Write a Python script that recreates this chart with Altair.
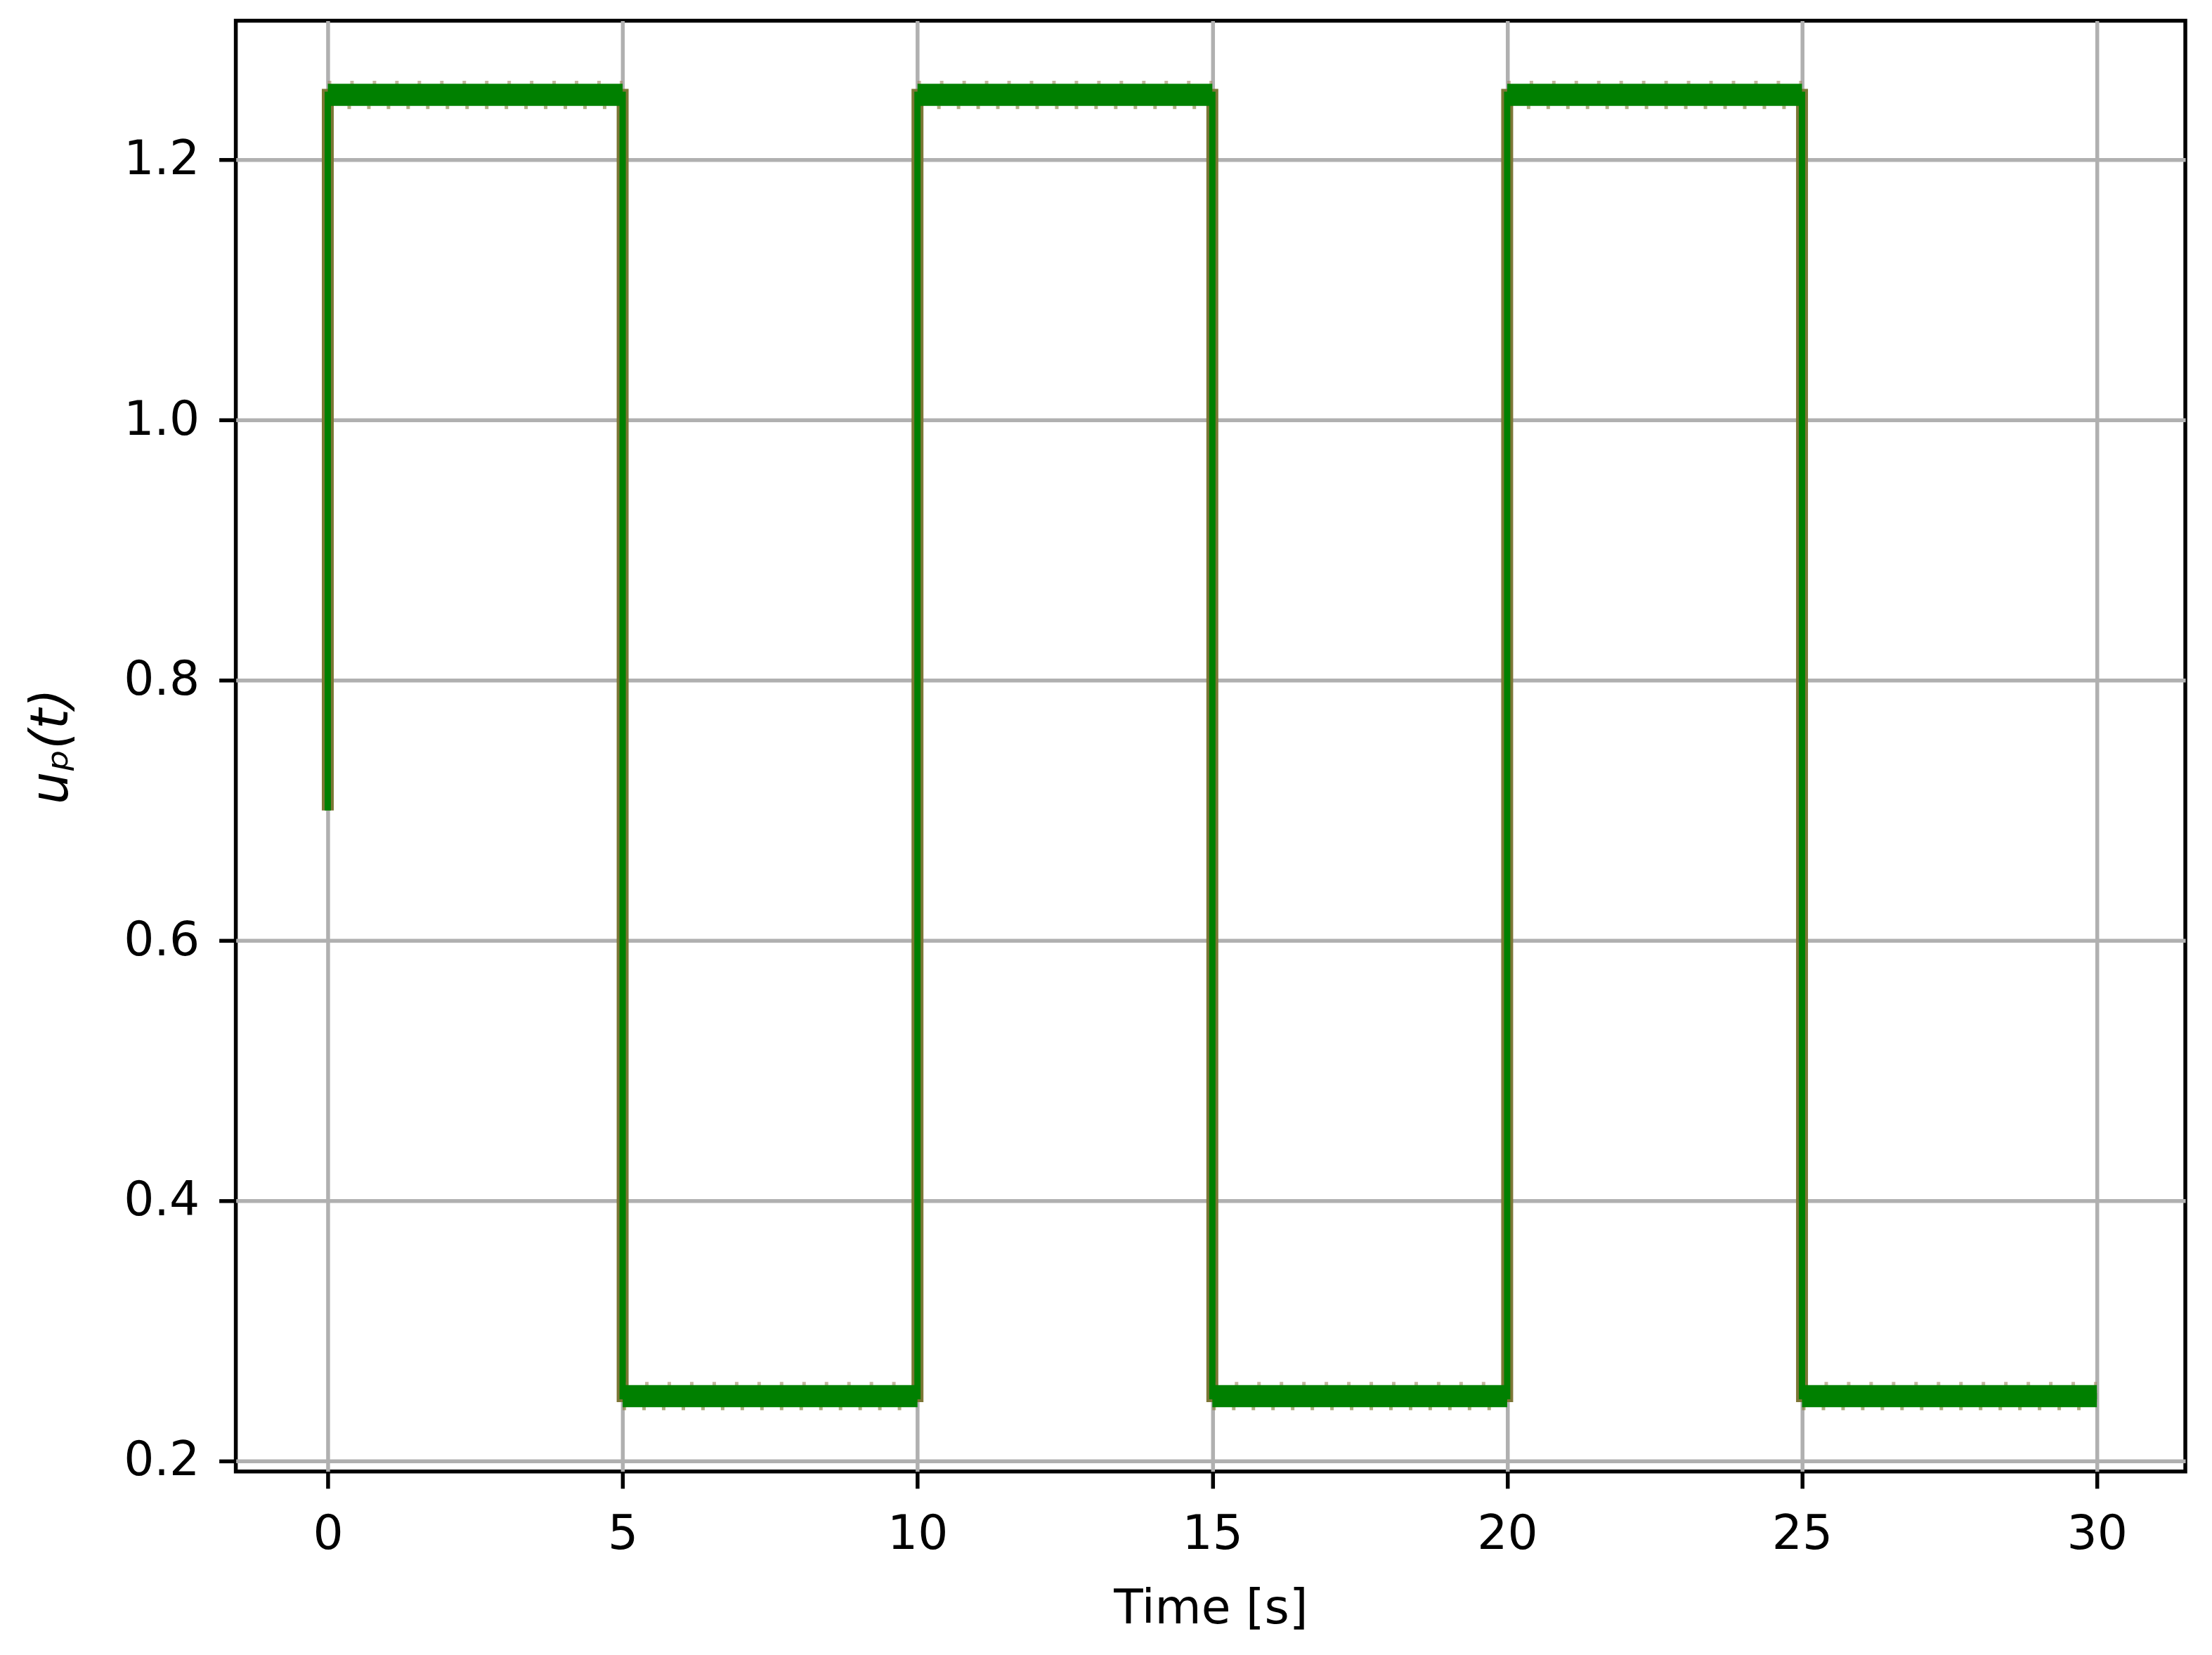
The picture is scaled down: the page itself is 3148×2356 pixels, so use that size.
import pandas as pd
import altair as alt

# square-wave input u_p(t): step corners
t_steps = [0.0, 0.0, 5.0, 5.0, 10.0, 10.0, 15.0, 15.0, 20.0, 20.0, 25.0, 25.0, 30.0]
u_steps = [0.70, 1.25, 1.25, 0.25, 0.25, 1.25, 1.25, 0.25, 0.25, 1.25, 1.25, 0.25, 0.25]

# noise envelope of each plateau (dense core and sparse outliers)
plateau_start = [0.0, 5.0, 10.0, 15.0, 20.0, 25.0]
plateau_end = [5.0, 10.0, 15.0, 20.0, 25.0, 30.0]
plateau_lo = [1.2415, 0.2415, 1.2415, 0.2415, 1.2415, 0.2415]
plateau_hi = [1.2585, 0.2585, 1.2585, 0.2585, 1.2585, 0.2585]
outlier_lo = [1.2405, 0.2405, 1.2405, 0.2405, 1.2405, 0.2405]
outlier_hi = [1.2595, 0.2595, 1.2595, 0.2595, 1.2595, 0.2595]

x_ticks = [0, 5, 10, 15, 20, 25, 30]
y_ticks = [0.2, 0.4, 0.6, 0.8, 1.0, 1.2]

steps = pd.DataFrame({"t": t_steps, "u": u_steps, "i": range(len(t_steps))})
plateaus = pd.DataFrame(
    {
        "t0": plateau_start,
        "t1": plateau_end,
        "lo": plateau_lo,
        "hi": plateau_hi,
        "olo": outlier_lo,
        "ohi": outlier_hi,
    }
)

x_scale = alt.Scale(domain=[-1.56, 31.5], nice=False, zero=False)
y_scale = alt.Scale(domain=[0.192, 1.307], nice=False, zero=False)

x_axis = alt.Axis(
    values=x_ticks,
    format="d",
    title="Time [s]",
    titlePadding=38,
    labelPadding=32,
)
y_axis = alt.Axis(
    values=y_ticks,
    format=".1f",
    title="uₚ(t)",
    titleFontStyle="italic",
    titleFontSize=74,
    titlePadding=64,
    labelPadding=28,
)

ref = (
    alt.Chart(steps)
    .mark_line(color="#7d7636", strokeWidth=17, strokeJoin="miter")
    .encode(
        x=alt.X("t:Q", scale=x_scale, axis=x_axis),
        y=alt.Y("u:Q", scale=y_scale, axis=y_axis),
        order="i:Q",
    )
)

outliers_top = (
    alt.Chart(plateaus)
    .mark_rule(color="#a08660", strokeWidth=5, strokeDash=[5, 27], opacity=0.6)
    .encode(
        x=alt.X("t0:Q", scale=x_scale),
        x2="t1:Q",
        y=alt.Y("ohi:Q", scale=y_scale),
    )
)

outliers_bottom = (
    alt.Chart(plateaus)
    .mark_rule(color="#7f7a30", strokeWidth=5, strokeDash=[5, 23], opacity=0.6)
    .encode(
        x=alt.X("t0:Q", scale=x_scale),
        x2="t1:Q",
        y=alt.Y("olo:Q", scale=y_scale),
    )
)

band = (
    alt.Chart(plateaus)
    .mark_rect(color="#008000")
    .encode(
        x=alt.X("t0:Q", scale=x_scale),
        x2="t1:Q",
        y=alt.Y("lo:Q", scale=y_scale),
        y2="hi:Q",
    )
)

sig = (
    alt.Chart(steps)
    .mark_line(color="#008000", strokeWidth=9, strokeJoin="miter")
    .encode(
        x=alt.X("t:Q", scale=x_scale),
        y=alt.Y("u:Q", scale=y_scale),
        order="i:Q",
    )
)

chart = (
    alt.layer(ref, outliers_top, outliers_bottom, band, sig)
    .properties(
        width=2778,
        height=2068,
        autosize=alt.AutoSizeParams(type="none"),
        padding={"left": 328, "top": 20, "right": 30, "bottom": 252},
    )
    .configure_axis(
        labelFont="DejaVu Sans",
        titleFont="DejaVu Sans",
        labelFontSize=68,
        titleFontSize=68,
        titleFontWeight="normal",
        labelColor="black",
        titleColor="black",
        grid=True,
        gridColor="#b0b0b0",
        gridWidth=5.5,
        domain=False,
        tickColor="black",
        tickWidth=5.5,
        tickSize=24,
    )
    .configure_view(stroke="black", strokeWidth=5.5)
)

chart.save("out.html", embed_options={"renderer": "svg", "actions": False})
